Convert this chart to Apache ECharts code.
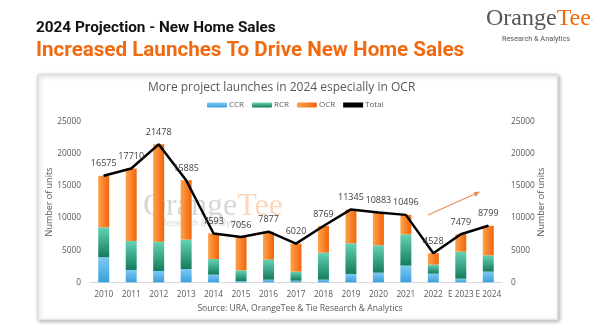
<!DOCTYPE html>
<html><head><meta charset="utf-8">
<script src="https://cdn.jsdelivr.net/npm/echarts@6/dist/echarts.min.js"></script>
<style>html,body{margin:0;padding:0;background:#fff;}#c{width:600px;height:336px;}</style>
</head><body><div id="c"></div>
<script>
const categories = ['2010','2011','2012','2013','2014','2015','2016','2017','2018','2019','2020','2021','2022','E 2023','E 2024'];
const totals = [16575,17710,21478,15885,7593,7056,7877,6020,8769,11345,10883,10496,4528,7479,8799];
const ccr = [3900,1920,1760,2070,1190,200,410,260,410,1300,1500,2600,1350,570,1660];
const rcrTop = [8560,6430,6330,6640,3630,1870,3530,1660,4620,6070,5760,7470,2750,4770,4200];
const rcr = rcrTop.map((v,i)=>v-ccr[i]);
const ocr = totals.map((v,i)=>v-rcrTop[i]);
const yTicks = [0,5000,10000,15000,20000,25000];

const font = 'Open Sans';
const chart = echarts.init(document.getElementById('c'));
const axisLabel = {color:'#595959', fontSize:8.3, fontFamily:font};
const yAx = (pos, gap)=>({
  type:'value', position:pos, min:yTicks[0], max:yTicks[yTicks.length-1], interval:5000,
  axisLine:{show:false}, axisTick:{show:false}, splitLine:{show:false},
  axisLabel:Object.assign({margin:9, formatter:(v)=>String(v)}, axisLabel),
  name:'Number of units', nameLocation:'middle', nameRotate:90,
  nameGap: gap, nameMoveOverlap:false,
  nameTextStyle:{color:'#595959', fontSize:9, fontFamily:font}
});
chart.setOption({
  animation:false,
  graphic:[
    {type:'rect', z:-10, shape:{x:38,y:75,width:520,height:245}, style:{fill:'#fff', stroke:'#d9d9d9', lineWidth:1, shadowBlur:4, shadowColor:'rgba(0,0,0,0.35)', shadowOffsetX:1, shadowOffsetY:1}},
    {type:'text', left:36, top:21, style:{text:'2024 Projection - New Home Sales', fill:'#111', font:'bold 15.3px Roboto'}},
    {type:'text', left:36, top:40, style:{text:'Increased Launches To Drive New Home Sales', fill:'#f26a10', font:'bold 20.6px Roboto'}},
    {type:'text', left:486, top:7, style:{text:'{a|Orange}{b|Tee}{c|.}', rich:{a:{fill:'#555', fontFamily:'Liberation Serif', fontSize:24}, b:{fill:'#f26a10', fontFamily:'Liberation Serif', fontSize:24}, c:{fill:'#f26a10', fontSize:8}}}},
    {type:'text', left:502, top:36, style:{text:'Research & Analytics', fill:'#555', font:'7.3px Roboto'}},
    {type:'text', left:143, top:191, z:-1, style:{text:'{a|Orange}{b|Tee}', opacity:0.4, rich:{a:{fill:'#9a9a9a', fontFamily:'Liberation Serif', fontSize:32}, b:{fill:'#f59a5a', fontFamily:'Liberation Serif', fontSize:32}}}},
    {type:'text', left:161, top:219, z:-1, style:{text:'Research & Analytics', fill:'#aaa', opacity:0.45, font:'9px Roboto'}},
    {type:'line', shape:{x1:428,y1:215,x2:477,y2:193}, style:{stroke:'#ea8f55', lineWidth:1.2}},
    {type:'polygon', shape:{points:[[480,191.5],[473.5,192.2],[475.7,197]]}, style:{fill:'#ea8f55'}},
    {type:'text', left:'center', top:304, style:{text:'Source: URA, OrangeTee & Tie Research & Analytics', fill:'#595959', font:'8.6px "Open Sans"'}},
  ],
  title:{text:'More project launches in 2024 especially in OCR', left:143, top:77, textStyle:{color:'#595959', fontSize:12, fontWeight:'normal', fontFamily:font}},
  legend:{top:96, left:202, itemGap:8, itemWidth:20, itemHeight:5, textStyle:{color:'#595959', fontSize:8, fontFamily:font, padding:[0,0,0,-3]},
    data:['CCR','RCR','OCR',{name:'Total', icon:'rect'}]},
  grid:{left:90, right:98, top:121.7, bottom:53.7},
  xAxis:{type:'category', data:categories, axisTick:{show:false}, axisLine:{lineStyle:{color:'#d9d9d9'}}, axisLabel:Object.assign({margin:8, interval:0}, axisLabel)},
  yAxis:[yAx('left', 36), yAx('right', 35)],
  series:[
    {name:'CCR', type:'bar', stack:'s', barWidth:'40%', data:ccr, itemStyle:{color:new echarts.graphic.LinearGradient(0,0,0,1,[{offset:0,color:'#7ccaf2'},{offset:1,color:'#3a9fdc'}])}},
    {name:'RCR', type:'bar', stack:'s', data:rcr, itemStyle:{color:new echarts.graphic.LinearGradient(0,0,0,1,[{offset:0,color:'#66d3b5'},{offset:1,color:'#137c5d'}])}},
    {name:'OCR', type:'bar', stack:'s', data:ocr, itemStyle:{color:new echarts.graphic.LinearGradient(0,0,1,0,[{offset:0,color:'#ffa24a'},{offset:1,color:'#f0650c'}])}},
    {name:'Total', type:'line', data:totals, symbol:'circle', symbolSize:1, showSymbol:true, color:'#000', lineStyle:{color:'#000', width:2.5},
      label:{show:true, position:'top', distance:7, color:'#404040', fontSize:9, fontFamily:font}}
  ]
});
</script></body></html>
